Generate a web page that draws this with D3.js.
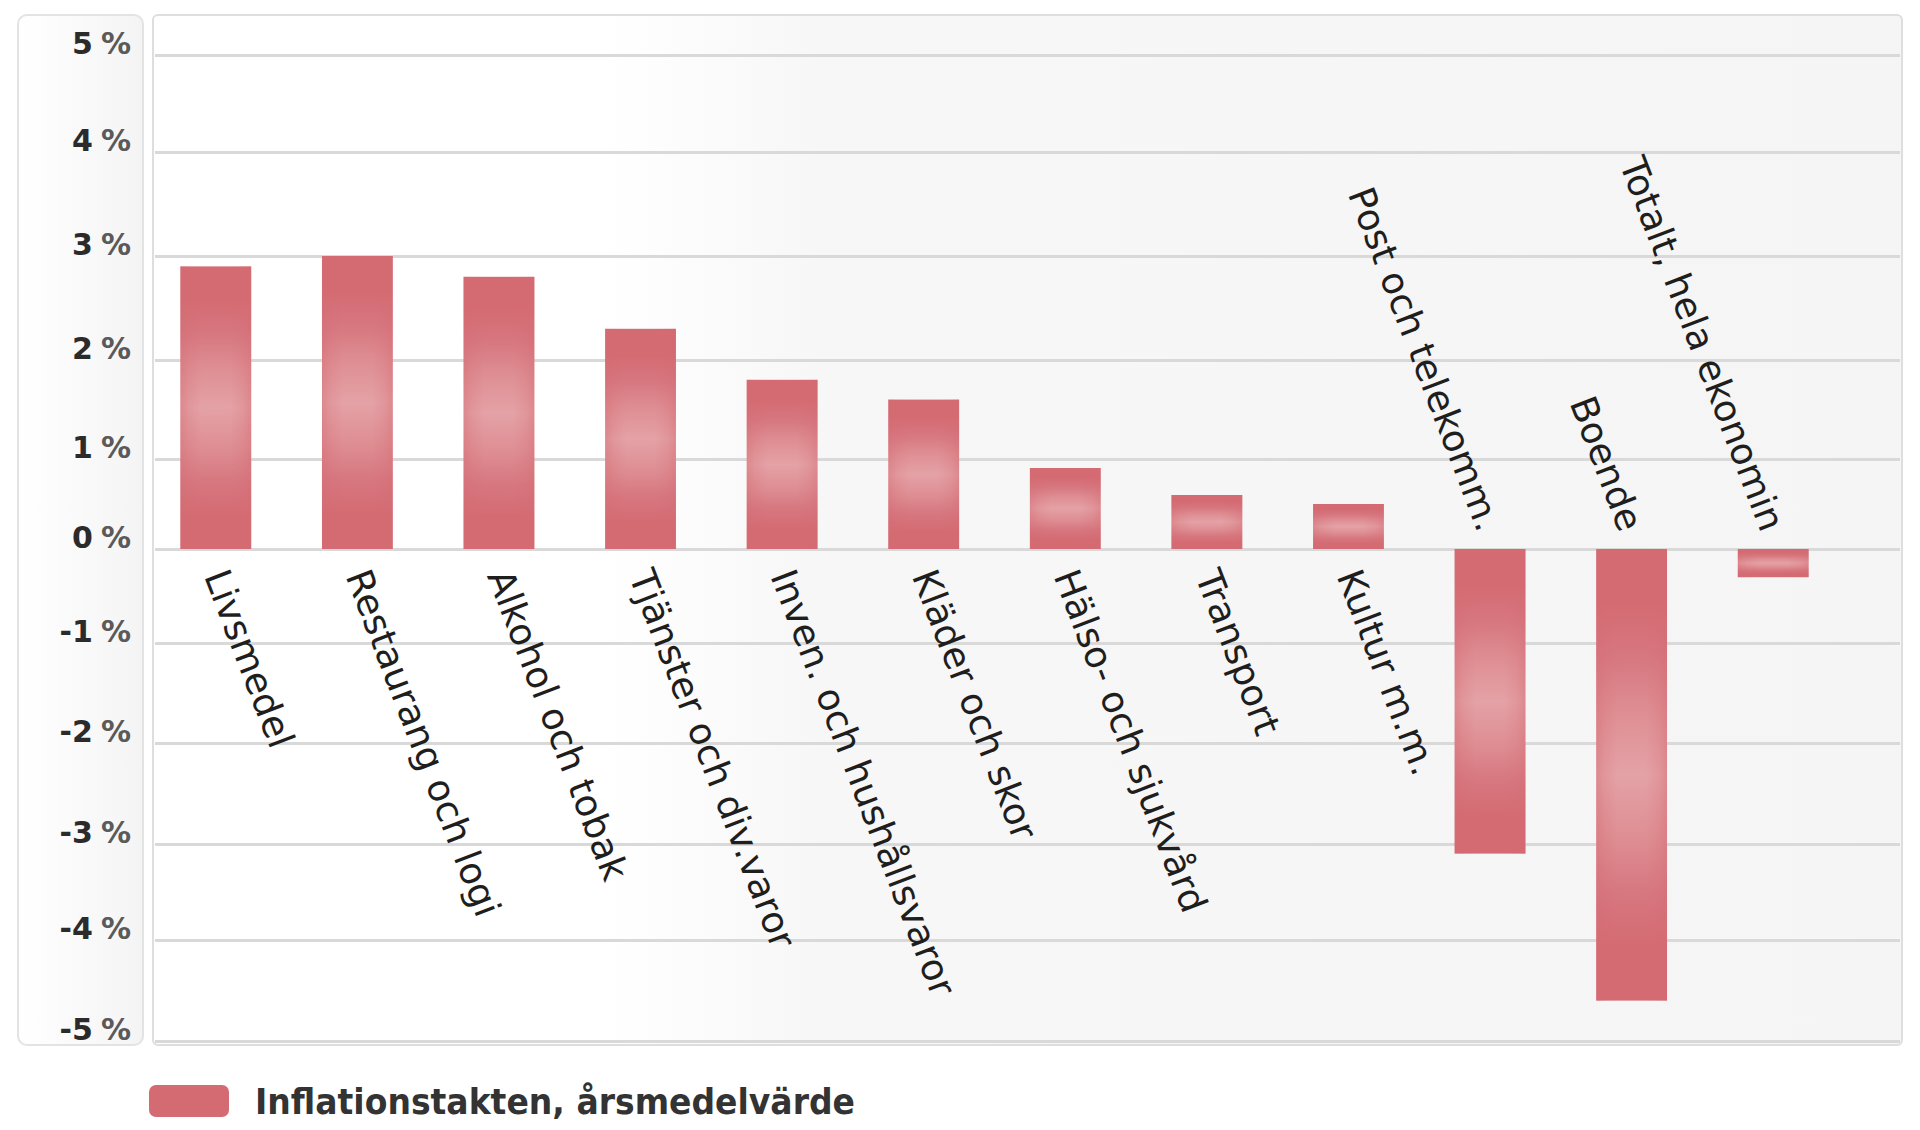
<!DOCTYPE html>
<html><head><meta charset="utf-8">
<script src="https://cdn.jsdelivr.net/npm/d3@7"></script>
<style>html,body{margin:0;padding:0;background:#fff;}svg{display:block;}</style>
</head><body>
<svg id="chart" width="1920" height="1130"></svg>
<script>
const categories = ["Livsmedel","Restaurang och logi","Alkohol och tobak","Tjänster och div.varor","Inven. och hushållsvaror","Kläder och skor","Hälso- och sjukvård","Transport","Kultur m.m.","Post och telekomm.","Boende","Totalt, hela ekonomin"];
const values = [2.9, 3.0, 2.8, 2.3, 1.8, 1.6, 0.9, 0.6, 0.5, -3.1, -4.6, -0.3];
const yTicks = [5,4,3,2,1,0,-1,-2,-3,-4,-5];
const seriesName = "Inflationstakten, årsmedelvärde";

// layout: the source image places its grid lines at these pixel rows (slightly uneven)
const gridRows = [55,152,256,360,459,549,643,743,844,940,1041];

const svg = d3.select("#chart");
const defs = svg.append("defs");

const bg = defs.append("linearGradient").attr("id","plotbg").attr("x1",0).attr("x2",1).attr("y1",0).attr("y2",0);
bg.append("stop").attr("offset",0).attr("stop-color","#ffffff");
bg.append("stop").attr("offset",0.26).attr("stop-color","#ffffff");
bg.append("stop").attr("offset",0.38).attr("stop-color","#f7f7f7");
bg.append("stop").attr("offset",1).attr("stop-color","#f5f5f5");

const ag = defs.append("linearGradient").attr("id","axbg").attr("x1",0).attr("x2",1).attr("y1",0).attr("y2",0);
ag.append("stop").attr("offset",0).attr("stop-color","#ffffff");
ag.append("stop").attr("offset",1).attr("stop-color","#f4f4f4");

const vg = defs.append("linearGradient").attr("id","barv").attr("x1",0).attr("x2",0).attr("y1",0).attr("y2",1);
[[0,"#d46b72"],[0.12,"#d46b72"],[0.24,"#d77780"],[0.36,"#de8e93"],[0.5,"#e4a2a6"],[0.64,"#de8e93"],[0.76,"#d77780"],[0.88,"#d46b72"],[1,"#d46b72"]]
  .forEach(s=>vg.append("stop").attr("offset",s[0]).attr("stop-color",s[1]));
const hg = defs.append("linearGradient").attr("id","barh").attr("x1",0).attr("x2",1).attr("y1",0).attr("y2",0);
[[0,0.45],[0.12,0.2],[0.3,0],[0.7,0],[0.88,0.2],[1,0.45]]
  .forEach(s=>hg.append("stop").attr("offset",s[0]).attr("stop-color","#d46b72").attr("stop-opacity",s[1]));

// panels
svg.append("rect").attr("x",18).attr("y",15).attr("width",125).attr("height",1030)
  .attr("rx",9).attr("fill","url(#axbg)").attr("stroke","#e3e3e3").attr("stroke-width",2);
svg.append("rect").attr("x",153).attr("y",15).attr("width",1749).attr("height",1030)
  .attr("rx",5).attr("fill","url(#plotbg)").attr("stroke","#dedede").attr("stroke-width",2);

const y = d3.scaleLinear().domain(yTicks).range(gridRows);
const x = d3.scaleBand().domain(categories).range([145,1844]).paddingInner(0.5).paddingOuter(0.25);

// gridlines
const grid = svg.append("g").attr("transform","translate(155,0)")
  .call(d3.axisLeft(y).tickValues(yTicks).tickSize(-1745).tickFormat(""));
grid.select(".domain").remove();
grid.selectAll(".tick line").attr("stroke","#d9d9d9").attr("stroke-width",3);

// y labels
const yl = svg.append("g").attr("font-family","DejaVu Sans, sans-serif").attr("font-size",30).attr("font-weight","bold");
yl.selectAll("text").data(yTicks).join("text")
  .attr("x",131).attr("y",d=>y(d)-12).attr("dy","0.35em").attr("text-anchor","end")
  .each(function(d){
    const t = d3.select(this);
    t.append("tspan").attr("fill","#2b2b2b").text(d);
    t.append("tspan").attr("fill","#5a5a5a").attr("dx",8).text("%");
  });

// bars
const y0 = y(0);
const bars = svg.append("g");
["url(#barv)","url(#barh)"].forEach(f=>{
  bars.append("g").selectAll("rect").data(values).join("rect")
    .attr("x",(d,i)=>x(categories[i]))
    .attr("width",x.bandwidth())
    .attr("y",d=>d>=0?y(d):y0)
    .attr("height",d=>Math.abs(y(d)-y0))
    .attr("fill",f);
});

// category labels
const ANG = 69;
svg.append("g").attr("font-family","DejaVu Sans, sans-serif").attr("font-size",37).attr("fill","#1e1e1e")
  .selectAll("text").data(categories).join("text")
  .attr("transform",(c,i)=>{
    const cx = x(c)+x.bandwidth()/2;
    const cy = values[i]>=0 ? y0+22 : y0-20;
    return `translate(${cx},${cy}) rotate(${ANG})`;
  })
  .attr("dy","0.35em")
  .attr("text-anchor",(c,i)=>values[i]>=0?"start":"end")
  .text(c=>c);

// legend
svg.append("rect").attr("x",149).attr("y",1085).attr("width",80).attr("height",32).attr("rx",7).attr("fill","#d46b72");
svg.append("text").attr("x",255).attr("y",1114).attr("font-family","DejaVu Sans, sans-serif")
  .attr("font-size",35).attr("font-weight","bold").attr("fill","#333")
  .attr("textLength",600).attr("lengthAdjust","spacingAndGlyphs").text(seriesName);
</script>
</body></html>
